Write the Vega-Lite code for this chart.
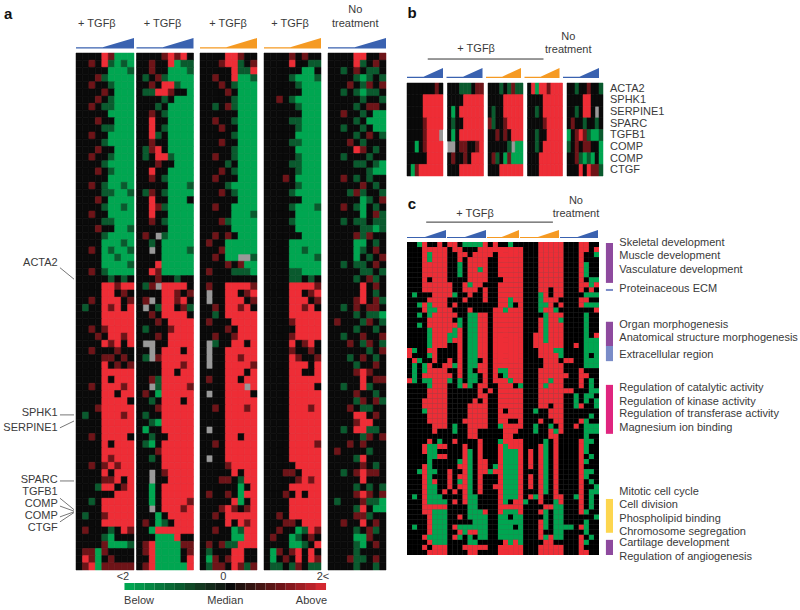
{"$schema":"https://vega.github.io/schema/vega-lite/v6.json","padding":0,"background":"white","config":{"font":"Liberation Sans","view":{"stroke":null},"text":{"color":"#3a3a3a","fontSize":11}},
"datasets":{"w":[{"d":0,"h":0.13},{"d":0.46,"h":0.13},{"d":1,"h":1}],
"a1":[{"v":[0,0,0,0,2,1,-2,-2,-2]},{"v":[0,0,1,0,2,-1,-2,-1,-2]},{"v":[0,0,0,0,0,-2,-2,-2,-1]},{"v":[0,0,0,1,-1,-2,-2,-2,-2]},{"v":[0,0,1,0,0,-1,-2,-2,-2]},{"v":[0,0,0,0,1,0,-2,-2,-2]},{"v":[0,0,0,1,0,-1,-2,-2,-2]},{"v":[0,0,1,0,-1,-1,-2,-2,-2]},{"v":[0,0,0,0,0,-2,-2,-2,-2]},{"v":[0,0,0,1,0,0,-2,-2,-2]},{"v":[0,0,0,0,-1,-1,-2,-2,-2]},{"v":[0,0,1,0,0,-2,-2,-2,-2]},{"v":[0,0,0,0,-1,-2,-2,-2,-2]},{"v":[0,0,0,1,0,0,-2,-2,-2]},{"v":[0,0,1,0,0,-1,-2,-2,-2]},{"v":[0,0,0,0,-1,-2,-2,-2,-2]},{"v":[0,0,0,1,0,-1,-2,-2,-2]},{"v":[0,0,0,0,0,-2,-2,-2,-2]},{"v":[0,0,1,0,-1,-2,-2,-1,-2]},{"v":[0,0,0,0,-1,-1,-2,-2,-1]},{"v":[0,0,0,1,0,-2,-2,-2,-2]},{"v":[0,0,0,0,-1,-2,-2,-1,-2]},{"v":[0,0,1,0,0,-2,-2,-2,-2]},{"v":[0,0,0,0,-1,-1,-2,-2,-2]},{"v":[0,0,0,1,0,0,-2,-2,-1]},{"v":[0,0,0,0,-1,-2,-2,-2,-2]},{"v":[0,0,0,0,-2,-2,-2,-1,-2]},{"v":[0,0,1,0,-2,-1,-2,-2,-1]},{"v":[0,0,0,0,-2,-2,-1,-2,-2]},{"v":[0,0,0,0,-2,-2,-2,-2,-1]},{"v":[0,0,1,0,-1,-2,-2,-2,-2]},{"v":[0,0,0,0,0,-1,0,-1,0]},{"v":[0,0,0,0,2,2,1,2,2]},{"v":[0,0,0,0,2,2,0,1,0]},{"v":[0,0,1,0,2,2,2,0,1]},{"v":[0,-1,0,0,2,1,2,0,2]},{"v":[0,0,0,0,2,2,2,2,2]},{"v":[0,0,0,0,2,2,2,2,2]},{"v":[0,0,1,0,1,2,2,2,2]},{"v":[0,0,0,1,0,2,2,1,2]},{"v":[0,0,0,0,2,1,2,0,2]},{"v":[0,0,1,0,0,0,1,0,0]},{"v":[0,0,0,0,1,1,0,1,0]},{"v":[0,0,0,0,2,0,1,0,1]},{"v":[0,0,0,0,2,2,2,2,2]},{"v":[0,0,0,0,2,0,2,2,2]},{"v":[0,0,1,0,2,2,2,1,2]},{"v":[0,0,0,0,2,2,0,2,2]},{"v":[0,0,0,0,2,2,2,2,0]},{"v":[0,0,0,1,2,2,2,2,2]},{"v":[0,-1,0,0,2,2,2,1,2]},{"v":[0,0,0,0,2,2,2,2,2]},{"v":[0,0,0,0,2,2,2,2,2]},{"v":[0,0,1,0,2,2,2,2,0]},{"v":[0,0,0,0,2,0,2,2,2]},{"v":[0,0,0,0,2,2,2,2,2]},{"v":[0,0,0,0,2,1,2,2,2]},{"v":[0,0,1,0,1,2,1,2,2]},{"v":[0,0,0,0,2,0,2,2,2]},{"v":[0,0,0,0,1,1,2,0,2]},{"v":[0,0,0,-1,2,2,0,1,2]},{"v":[0,0,0,0,0,0,2,2,2]},{"v":[0,0,-1,0,2,2,2,2,2]},{"v":[0,0,0,0,2,2,2,2,2]},{"v":[0,-1,0,0,1,2,2,2,2]},{"v":[0,0,0,0,2,2,2,2,2]},{"v":[0,1,0,0,0,-1,0,2,1]},{"v":[0,0,0,0,-1,-2,0,0,0]},{"v":[0,0,0,0,1,-2,-2,-2,-1]},{"v":[0,1,1,-2,1,0,0,0,0]},{"v":[0,2,1,-2,0,1,0,0,0]},{"v":[0,1,2,-2,1,1,1,1,1]}],
"a2":[{"v":[0,0,0,0,1,2,1,2,0]},{"v":[0,0,1,0,0,2,-2,-1,-1]},{"v":[0,0,1,0,0,-2,-2,-2,-1]},{"v":[0,-1,0,1,-1,-2,-2,-2,-2]},{"v":[0,0,1,0,2,2,-1,-2,-2]},{"v":[0,-1,-1,2,2,1,0,0,-2]},{"v":[0,0,0,0,-1,0,-2,-2,-2]},{"v":[0,0,0,-1,0,-2,-2,-2,-2]},{"v":[0,0,1,0,-1,-2,-2,-2,-2]},{"v":[0,0,2,0,0,-2,-2,-2,-2]},{"v":[0,0,2,0,-1,-2,-2,-2,-2]},{"v":[0,0,2,-1,0,-2,-2,-2,-2]},{"v":[0,0,1,0,0,-2,-2,-2,-2]},{"v":[0,-1,1,2,0,-2,-2,-2,-2]},{"v":[0,-1,0,2,2,-1,-2,-2,-2]},{"v":[0,0,0,1,0,0,-2,-2,-2]},{"v":[0,0,2,0,0,-2,-2,-2,-2]},{"v":[0,0,1,0,-1,-2,-2,-2,-2]},{"v":[0,0,0,0,0,-2,-2,-2,-1]},{"v":[0,-1,1,0,-1,-2,-2,-2,-2]},{"v":[0,0,2,0,0,-2,-2,-2,0]},{"v":[0,0,2,1,-1,-2,-2,-2,-2]},{"v":[0,0,2,0,0,-2,-2,-2,-2]},{"v":[0,0,1,0,-1,-2,-2,-2,-2]},{"v":[0,0,0,0,0,-2,-2,-2,-2]},{"v":[0,1,0,null,-1,-2,-2,-2,-2]},{"v":[0,0,-1,0,-2,-2,-2,-2,-2]},{"v":[0,0,null,0,-2,-2,-2,-2,-1]},{"v":[0,0,0,0,-2,-2,-2,-2,-2]},{"v":[0,0,0,2,-2,-2,-2,-2,-2]},{"v":[0,0,2,1,-2,-2,-2,-2,-2]},{"v":[0,0,0,1,0,0,-1,0,0]},{"v":[0,-1,1,null,2,2,2,2,0]},{"v":[0,0,0,0,2,2,1,0,1]},{"v":[0,1,null,0,2,2,1,2,0]},{"v":[0,null,0,-1,2,2,0,1,-1]},{"v":[0,0,1,0,2,2,2,2,0]},{"v":[0,0,0,1,0,2,2,2,2]},{"v":[0,-1,0,0,0,1,2,2,2]},{"v":[0,0,0,1,0,2,2,2,2]},{"v":[0,null,null,0,0,2,2,2,2]},{"v":[0,0,null,0,2,2,2,0,2]},{"v":[0,-1,null,1,2,2,2,2,2]},{"v":[0,0,0,0,2,2,2,1,2]},{"v":[0,0,0,0,2,2,0,2,2]},{"v":[0,0,1,-1,2,2,2,2,2]},{"v":[0,0,null,-1,2,2,2,2,1]},{"v":[0,1,0,-2,2,2,2,2,2]},{"v":[0,0,-1,0,2,2,2,0,2]},{"v":[0,0,0,1,2,2,2,2,2]},{"v":[0,-1,0,0,2,2,2,2,2]},{"v":[0,0,-1,-2,2,2,2,2,2]},{"v":[0,-2,0,0,2,2,2,2,2]},{"v":[0,0,-1,0,0,2,2,2,2]},{"v":[0,-1,-2,0,2,2,2,2,2]},{"v":[0,0,0,1,2,2,2,2,2]},{"v":[0,0,-1,0,2,2,2,2,2]},{"v":[0,0,0,0,2,2,2,2,2]},{"v":[0,0,null,0,1,2,2,2,2]},{"v":[0,0,null,0,0,2,2,2,2]},{"v":[0,0,-2,0,2,2,2,2,2]},{"v":[0,0,-2,0,2,2,2,2,2]},{"v":[0,0,-2,0,2,2,2,2,1]},{"v":[0,0,null,0,2,2,2,1,2]},{"v":[0,0,0,-2,0,2,2,2,2]},{"v":[0,1,0,-2,-1,0,2,2,2]},{"v":[0,0,-2,2,2,2,2,2,2]},{"v":[0,0,0,-2,-2,-2,2,0,0]},{"v":[0,1,2,-2,-2,-2,-2,1,1]},{"v":[0,1,2,-2,-2,-2,-2,0,1]},{"v":[0,0,2,-2,-2,-2,-2,0,2]},{"v":[0,1,2,-2,-2,-2,-2,-2,2]}],
"a3":[{"v":[0,0,0,0,2,2,1,0,0]},{"v":[0,0,0,1,2,2,-1,0,1]},{"v":[0,0,0,0,0,2,-1,-1,2]},{"v":[0,0,1,0,0,2,-2,-2,-1]},{"v":[0,0,0,1,0,-1,-2,-2,-2]},{"v":[0,0,0,0,1,0,-2,-2,-2]},{"v":[0,0,0,0,0,-1,-2,-2,-2]},{"v":[0,0,-1,0,1,-1,-2,-2,-2]},{"v":[0,0,0,0,0,0,-2,-2,-2]},{"v":[0,0,1,0,0,-1,-2,-2,-2]},{"v":[0,0,0,1,0,0,-2,-2,-2]},{"v":[0,0,0,0,0,-1,-2,-2,-2]},{"v":[0,0,0,1,0,0,-2,-2,-2]},{"v":[0,0,0,0,0,-1,-2,-2,-2]},{"v":[0,0,1,0,0,-1,-2,-2,-2]},{"v":[0,0,0,0,-1,0,-2,-2,-2]},{"v":[0,0,0,1,0,-1,-2,-2,-2]},{"v":[0,0,1,0,0,0,-2,-2,-2]},{"v":[0,0,0,0,-1,-2,-2,-2,-2]},{"v":[0,0,0,1,0,-1,-2,-2,-2]},{"v":[0,0,0,0,0,0,-2,-2,-2]},{"v":[0,0,1,0,0,-2,-2,-2,-2]},{"v":[0,0,0,0,0,-2,-2,-2,-1]},{"v":[0,0,0,1,-1,-2,-2,-2,-2]},{"v":[0,0,0,0,0,-2,-2,-2,-2]},{"v":[0,0,1,0,1,0,-2,-2,-2]},{"v":[0,1,0,0,-2,-2,-2,-2,-2]},{"v":[0,0,0,1,-2,-2,-2,-2,-2]},{"v":[0,0,1,0,-2,-2,null,null,-1]},{"v":[0,0,0,0,1,0,1,-2,-2]},{"v":[0,1,0,0,0,-1,-1,-1,-2]},{"v":[0,0,0,0,0,0,0,0,0]},{"v":[0,1,0,0,2,2,2,2,1]},{"v":[0,null,0,0,2,2,0,1,2]},{"v":[0,null,0,0,2,2,2,0,1]},{"v":[0,0,1,0,2,2,1,2,0]},{"v":[0,0,-1,0,2,2,2,2,2]},{"v":[0,1,0,0,0,2,2,2,2]},{"v":[0,0,0,0,1,0,2,2,2]},{"v":[0,0,1,0,0,1,2,2,2]},{"v":[0,null,-1,0,0,2,2,0,2]},{"v":[0,null,0,0,2,2,2,2,2]},{"v":[0,null,0,0,2,2,1,2,2]},{"v":[0,null,0,0,2,2,2,2,1]},{"v":[0,0,0,0,2,2,2,0,2]},{"v":[0,1,0,0,2,2,0,2,2]},{"v":[0,0,0,0,2,2,2,null,2]},{"v":[0,null,0,0,2,2,2,2,0]},{"v":[0,0,0,0,2,2,2,2,2]},{"v":[0,0,1,0,2,2,2,1,2]},{"v":[0,0,0,0,2,2,2,2,2]},{"v":[0,0,0,0,2,2,2,2,2]},{"v":[0,null,0,0,2,2,2,2,2]},{"v":[0,0,0,0,2,2,0,2,2]},{"v":[0,0,1,0,2,2,2,2,2]},{"v":[0,0,0,0,2,2,2,2,2]},{"v":[0,null,0,0,2,2,2,2,2]},{"v":[0,0,0,0,1,2,2,2,2]},{"v":[0,0,0,0,0,2,0,2,2]},{"v":[0,0,0,1,1,0,-1,2,2]},{"v":[0,0,0,0,0,0,-2,0,2]},{"v":[0,1,0,0,1,0,-2,2,2]},{"v":[0,0,0,0,0,2,-2,0,2]},{"v":[0,0,0,1,2,1,0,1,2]},{"v":[0,0,1,0,2,2,2,2,2]},{"v":[0,0,0,0,2,0,2,1,2]},{"v":[0,0,1,0,0,-2,-1,2,2]},{"v":[0,0,0,0,0,-2,-2,2,2]},{"v":[0,1,0,1,-1,-1,2,2,2]},{"v":[0,-1,0,0,0,2,2,0,0]},{"v":[0,-2,1,0,1,2,2,0,0]},{"v":[0,-1,1,1,0,2,1,-1,1]}],
"a4":[{"v":[0,0,0,0,1,0,1,0,0]},{"v":[0,0,0,0,2,0,0,-1,-1]},{"v":[0,0,0,0,0,0,-2,-2,0]},{"v":[0,0,0,0,-1,-2,-2,-2,-1]},{"v":[0,0,0,0,0,-1,-2,-2,-2]},{"v":[0,0,0,0,0,0,-2,-2,-2]},{"v":[0,0,1,0,-1,-2,-2,-2,-2]},{"v":[0,0,0,0,0,-1,-2,-2,-2]},{"v":[0,0,0,0,0,0,-2,-2,-2]},{"v":[0,0,0,0,-1,-1,-2,-2,-2]},{"v":[0,0,0,0,0,-1,-2,-2,-2]},{"v":[0,0,0,0,0,-2,-2,-2,-2]},{"v":[0,0,0,0,-1,-1,-2,-2,-2]},{"v":[0,0,0,0,0,-2,-2,-2,-2]},{"v":[0,0,0,0,0,-1,-2,-2,-2]},{"v":[0,0,0,0,-1,-1,-2,-2,-2]},{"v":[0,0,0,0,0,-1,-2,-2,-2]},{"v":[0,0,0,1,0,-2,-2,-2,-2]},{"v":[0,0,0,0,0,-1,-2,-2,-2]},{"v":[0,0,0,0,-1,-2,-2,-2,-2]},{"v":[0,0,0,0,0,0,-2,-2,-2]},{"v":[0,0,0,0,-1,-2,-2,-2,-1]},{"v":[0,0,0,0,0,-2,-2,-2,-2]},{"v":[0,0,0,0,-1,-2,-2,-2,-2]},{"v":[0,0,0,0,0,-2,-2,-2,-2]},{"v":[0,0,0,0,0,0,-2,-2,-2]},{"v":[0,0,0,0,-2,-2,-2,-2,-2]},{"v":[0,0,0,0,-2,-2,-1,-2,-2]},{"v":[0,0,0,0,-2,-2,-2,-2,-1]},{"v":[0,0,0,0,-2,-2,-2,-2,-2]},{"v":[0,0,0,0,-1,-1,-2,-2,-2]},{"v":[0,0,0,0,-1,-1,0,-1,0]},{"v":[0,0,0,0,2,2,2,2,1]},{"v":[0,0,0,0,2,2,0,1,2]},{"v":[0,0,0,0,2,2,2,0,1]},{"v":[0,0,0,0,2,2,1,2,0]},{"v":[0,0,0,0,2,2,2,2,2]},{"v":[0,0,0,0,1,2,2,2,2]},{"v":[0,0,0,0,0,2,2,2,2]},{"v":[0,0,0,0,1,2,2,2,2]},{"v":[0,0,0,0,2,0,1,2,0]},{"v":[0,0,0,0,1,0,0,1,0]},{"v":[0,0,0,0,2,1,0,0,1]},{"v":[0,0,0,0,2,2,2,0,2]},{"v":[0,0,0,0,2,2,0,0,2]},{"v":[0,0,0,0,2,2,2,2,2]},{"v":[0,0,0,0,2,2,2,2,0]},{"v":[0,0,0,0,2,2,2,2,2]},{"v":[0,0,0,0,2,2,2,2,2]},{"v":[0,0,0,0,2,2,2,1,2]},{"v":[0,0,0,0,2,2,2,2,2]},{"v":[0,0,0,0,2,2,2,2,2]},{"v":[0,0,0,0,2,2,2,2,2]},{"v":[0,0,0,0,2,2,2,2,2]},{"v":[0,0,0,0,2,2,2,2,1]},{"v":[0,0,0,0,2,2,2,2,2]},{"v":[0,0,0,0,2,2,2,2,2]},{"v":[0,0,0,0,0,2,2,2,2]},{"v":[0,0,0,1,1,0,2,2,2]},{"v":[0,0,0,0,0,1,2,1,2]},{"v":[0,0,0,0,2,2,2,2,2]},{"v":[0,0,0,1,0,2,0,2,2]},{"v":[0,0,0,0,2,2,2,2,2]},{"v":[0,0,0,0,2,2,2,2,2]},{"v":[0,0,1,0,2,2,2,2,2]},{"v":[0,0,0,1,1,0,2,2,2]},{"v":[0,0,1,0,0,-2,-1,2,1]},{"v":[0,1,0,0,-2,-1,0,1,0]},{"v":[0,0,0,0,-2,-2,-1,0,2]},{"v":[0,-2,1,0,1,2,0,2,0]},{"v":[0,-2,0,1,0,2,0,2,1]},{"v":[0,-1,-1,0,-1,1,0,-1,-1]}],
"a5":[{"v":[0,0,0,0,2,2,0,0,1]},{"v":[0,0,0,0,2,-1,0,1,0]},{"v":[0,0,-1,0,1,0,-1,-1,0]},{"v":[0,0,0,0,-1,-2,-1,0,-1]},{"v":[0,0,0,1,0,-1,1,0,1]},{"v":[0,0,-1,0,-1,-2,-1,-1,0]},{"v":[0,0,0,0,0,-1,0,0,-1]},{"v":[0,0,0,0,-1,0,1,1,0]},{"v":[0,0,1,0,0,-1,0,-2,-2]},{"v":[0,0,0,0,-1,0,-2,-2,-2]},{"v":[0,0,-1,0,0,-1,0,-2,-2]},{"v":[0,0,0,0,-1,0,1,0,-1]},{"v":[0,0,0,1,0,-1,0,0,0]},{"v":[0,0,0,0,2,1,0,-1,0]},{"v":[0,0,-1,0,0,0,-1,0,0]},{"v":[0,0,0,0,-1,-1,0,-1,-2]},{"v":[0,0,0,0,0,0,-1,-2,-2]},{"v":[0,0,1,0,-1,0,-1,0,0]},{"v":[0,0,0,0,0,1,0,-1,0]},{"v":[0,0,0,-1,1,-1,0,0,-1]},{"v":[0,0,0,0,0,-2,-1,0,1]},{"v":[0,0,1,0,-1,-2,0,-1,0]},{"v":[0,0,0,0,0,-2,0,1,-1]},{"v":[0,0,-1,0,-1,-1,0,-1,-1]},{"v":[0,0,0,0,0,-1,-1,-2,-1]},{"v":[0,0,0,0,1,-1,1,0,0]},{"v":[0,0,0,0,-2,-2,0,-1,0]},{"v":[0,0,0,0,-2,-1,0,1,0]},{"v":[0,0,0,0,-2,0,-1,0,1]},{"v":[0,0,-1,0,-1,-1,0,1,0]},{"v":[0,0,0,0,0,-1,-1,0,-1]},{"v":[0,0,0,0,-1,0,1,-1,0]},{"v":[0,0,0,0,0,2,0,1,0]},{"v":[0,0,0,0,0,2,0,-1,0]},{"v":[0,0,0,0,1,2,0,1,-1]},{"v":[0,0,-1,0,1,0,1,1,0]},{"v":[0,0,0,0,-1,0,-1,-1,-2]},{"v":[0,1,0,0,0,-1,1,0,-1]},{"v":[0,0,0,0,-1,0,0,-1,0]},{"v":[0,0,-1,0,0,1,0,0,1]},{"v":[0,0,0,1,0,-1,1,0,-1]},{"v":[0,0,0,0,0,0,-1,0,1]},{"v":[0,0,0,-1,0,1,0,-1,0]},{"v":[0,0,0,0,-1,0,0,1,0]},{"v":[0,0,0,0,1,2,1,0,0]},{"v":[0,0,0,0,0,2,0,1,1]},{"v":[0,0,-1,0,0,2,-1,0,0]},{"v":[0,0,0,0,1,0,0,-1,0]},{"v":[0,0,0,0,-1,1,0,1,-1]},{"v":[0,0,0,1,0,-1,-1,0,0]},{"v":[0,0,0,0,2,2,0,1,0]},{"v":[0,0,0,0,1,2,2,0,0]},{"v":[0,0,-1,0,2,2,-1,-1,0]},{"v":[0,0,0,0,0,-1,1,0,1]},{"v":[0,0,0,1,0,1,0,0,0]},{"v":[0,1,0,0,0,0,-1,0,0]},{"v":[0,0,0,0,-1,2,0,0,0]},{"v":[0,0,0,0,0,1,0,-1,0]},{"v":[0,0,-1,0,1,2,1,1,0]},{"v":[0,0,0,0,0,2,0,0,0]},{"v":[0,0,0,0,-1,0,-1,0,-1]},{"v":[0,0,0,0,1,2,1,0,1]},{"v":[0,-1,0,0,0,1,-1,-1,-2]},{"v":[0,0,0,0,-1,2,0,-2,-2]},{"v":[0,0,0,0,1,1,-1,0,0]},{"v":[0,0,1,0,0,2,0,1,0]},{"v":[0,0,0,0,-1,0,1,-1,0]},{"v":[0,0,0,0,-2,-2,1,0,0]},{"v":[0,0,0,0,-1,-2,0,1,0]},{"v":[0,0,0,0,-1,0,0,0,0]},{"v":[0,0,0,1,-1,-1,0,1,0]},{"v":[0,0,0,0,-1,0,0,-1,0]}],
"b1":[{"v":[0,0,0,0,0,0,0,1,0]},{"v":[0,0,0,0,2,2,2,2,2]},{"v":[0,0,0,0,2,2,2,2,2]},{"v":[0,0,0,0,1,2,2,2,2]},{"v":[0,0,0,0,1,2,2,2,null]},{"v":[0,0,-2,0,1,2,2,2,2]},{"v":[0,0,0,0,0,2,2,2,2]},{"v":[0,-2,1,2,2,2,2,2,2]}],
"b2":[{"v":[0,0,0,-1,-1,-1,0,1,1]},{"v":[0,0,0,0,2,2,2,2,2]},{"v":[0,-2,0,2,2,2,2,2,2]},{"v":[0,-1,0,0,2,2,2,2,2]},{"v":[0,-2,0,2,2,2,2,2,2]},{"v":[null,null,0,1,1,0,0,1,2]},{"v":[0,1,0,0,1,0,2,2,2]},{"v":[0,0,0,2,2,2,2,2,2]}],
"b3":[{"v":[0,0,0,-1,0,-1,1,-1,-1]},{"v":[0,0,0,0,2,2,2,2,2]},{"v":[0,-1,0,0,2,2,2,2,2]},{"v":[1,-1,0,0,1,2,2,2,2]},{"v":[0,0,1,0,1,0,2,2,2]},{"v":[0,0,0,0,0,-1,null,-2,-2]},{"v":[0,1,-1,0,-2,1,-2,-2,-2]},{"v":[0,0,0,2,2,2,2,2,2]}],
"b4":[{"v":[0,2,-2,2,2,1,2,2,2]},{"v":[0,0,0,0,2,2,2,2,2]},{"v":[0,0,-1,0,2,2,2,2,2]},{"v":[0,0,0,0,1,2,2,2,2]},{"v":[0,0,-1,0,0,2,2,2,2]},{"v":[0,0,-1,0,2,2,2,2,2]},{"v":[0,0,0,2,2,2,2,2,2]},{"v":[0,0,0,2,2,2,2,2,2]}],
"b5":[{"v":[0,0,-1,0,0,1,0,0,-1]},{"v":[0,0,0,0,2,2,0,0,0]},{"v":[0,0,-1,0,2,2,0,null,0]},{"v":[0,1,0,0,-1,0,0,-1,0]},{"v":[-2,0,1,2,1,-1,-2,-2,-1]},{"v":[-1,0,1,0,1,1,0,0,-2]},{"v":[0,0,1,-1,-2,-1,-2,0,-2]},{"v":[0,0,0,2,0,2,1,1,-1]}],
"c":[{"v":[0,0,2,1,0,0,1,0,1,1,0,2,2,2,2,1,0,1,0,0,2,0,0,0,0,0,1,1,1,1,1,0,0,0,1,1,0,0]},{"v":[0,0,0,1,1,1,1,1,0,1,1,0,0,0,1,1,1,1,1,1,1,1,1,0,0,0,1,1,1,1,1,0,0,0,1,1,0,1]},{"v":[0,0,0,1,2,1,1,1,0,0,1,1,0,1,1,1,1,0,1,1,1,1,1,0,0,0,1,1,1,1,1,0,0,0,1,0,0,2]},{"v":[0,0,0,1,2,1,1,1,0,0,1,0,1,1,1,1,0,0,1,1,1,1,1,0,0,0,1,1,1,1,1,0,0,0,1,0,0,0]},{"v":[0,0,0,1,1,1,1,1,0,0,2,0,1,1,1,1,0,0,1,1,1,1,1,0,0,0,1,1,1,1,1,0,0,0,1,2,0,0]},{"v":[0,0,0,1,1,1,1,1,0,0,2,0,1,1,2,1,0,0,1,1,1,1,1,0,0,0,1,1,1,1,1,0,0,0,1,2,0,0]},{"v":[0,0,0,1,1,1,1,1,0,0,2,0,1,1,1,1,0,0,1,1,1,1,1,0,0,0,1,1,1,1,1,0,0,0,1,2,0,0]},{"v":[0,0,0,1,0,1,1,1,0,0,0,0,1,1,1,1,0,0,0,1,1,1,1,0,0,0,1,1,1,1,1,0,0,0,1,0,2,2]},{"v":[0,0,0,1,1,1,1,1,1,0,0,1,2,1,1,0,0,0,1,1,1,1,1,0,0,0,1,1,1,1,1,0,0,0,1,1,2,1]},{"v":[0,0,0,1,1,1,1,1,1,0,0,1,1,1,0,1,0,0,1,1,1,1,1,0,0,0,1,1,0,1,1,0,0,0,1,0,1,0]},{"v":[0,2,0,0,0,1,1,1,1,2,0,0,1,0,0,1,0,0,1,1,1,1,1,0,0,0,2,1,0,1,1,0,0,0,0,2,2,2]},{"v":[0,0,0,0,1,1,1,1,0,0,0,1,0,0,0,1,0,0,1,1,2,1,1,0,0,0,2,1,1,1,0,0,0,0,1,1,0,0]},{"v":[0,0,2,1,2,1,1,1,0,1,0,0,0,0,0,0,0,0,1,1,2,0,1,0,0,0,2,2,1,0,1,0,0,0,1,2,2,2]},{"v":[0,0,0,1,2,2,1,1,1,0,0,0,1,0,0,0,0,1,1,2,1,1,1,0,0,0,2,1,1,2,0,0,0,0,0,0,0,1]},{"v":[0,0,2,0,2,1,1,1,1,1,0,0,2,2,1,1,0,1,1,1,1,1,1,0,0,0,0,2,1,1,1,0,0,0,0,2,0,0]},{"v":[0,0,0,0,1,1,1,1,1,0,2,0,2,2,1,1,0,1,1,1,1,1,1,0,0,0,1,2,1,1,2,0,0,0,0,2,0,0]},{"v":[0,0,2,0,1,1,1,1,1,1,2,0,2,2,1,1,0,1,1,1,1,1,1,0,0,0,1,2,1,1,1,0,0,0,0,2,0,0]},{"v":[0,0,0,0,2,1,1,1,1,2,1,0,2,2,1,1,0,1,1,1,1,1,1,0,0,0,1,2,1,1,1,0,0,0,0,2,0,0]},{"v":[0,0,0,0,2,1,1,1,2,2,1,0,2,2,1,1,0,1,1,1,1,1,1,0,0,1,1,2,1,1,1,0,0,0,0,2,0,1]},{"v":[0,0,0,0,2,1,1,1,2,1,1,0,2,2,1,1,0,1,1,1,1,1,1,0,0,1,1,2,1,1,1,0,0,0,0,2,2,2]},{"v":[0,0,0,0,2,1,1,1,0,0,1,0,2,2,1,1,0,1,1,1,1,1,1,0,0,1,1,1,1,1,1,0,0,1,0,2,2,2]},{"v":[1,2,0,0,1,1,0,0,0,0,1,0,2,2,1,1,0,1,1,1,1,1,1,0,0,0,1,1,1,2,2,0,0,0,0,2,2,2]},{"v":[1,0,0,0,2,1,0,0,0,0,1,0,2,2,1,1,0,1,1,1,1,1,1,0,0,0,1,1,1,1,2,0,0,0,0,2,0,2]},{"v":[0,1,2,0,0,1,0,0,1,0,1,0,2,2,0,1,0,1,1,1,1,1,1,0,0,0,0,1,1,1,0,1,1,0,0,2,2,2]},{"v":[0,2,0,2,1,0,0,1,1,2,1,0,2,2,1,1,0,1,1,1,1,1,1,0,0,0,0,1,1,1,1,0,0,0,0,2,2,2]},{"v":[0,2,0,2,1,1,1,1,0,0,1,0,2,0,1,1,0,1,2,2,1,1,1,0,0,0,1,1,1,1,1,0,0,0,1,0,0,0]},{"v":[0,2,0,1,1,1,1,1,1,0,1,0,2,2,0,1,0,1,0,2,1,1,1,0,0,0,1,1,1,1,1,1,0,0,1,1,0,0]},{"v":[1,2,0,2,2,1,1,1,2,0,2,0,2,2,0,1,0,1,1,1,2,1,1,0,0,0,1,1,2,1,1,0,0,0,1,0,2,0]},{"v":[0,0,0,0,2,1,1,1,0,0,2,1,2,0,1,1,0,0,1,1,1,0,2,0,0,0,1,2,1,1,1,0,0,0,1,0,2,0]},{"v":[0,0,0,0,1,1,1,1,0,0,0,0,0,0,1,0,1,0,1,1,1,1,1,0,0,0,1,1,1,1,1,1,1,0,0,0,2,2]},{"v":[0,0,0,0,1,1,1,1,0,0,0,0,0,0,1,1,0,0,1,1,1,1,1,0,0,0,1,1,1,1,1,0,0,2,0,2,2,0]},{"v":[0,0,0,1,1,1,1,1,0,0,0,0,0,1,0,1,0,0,1,1,1,1,1,0,0,0,1,1,1,1,1,0,0,2,0,2,0,2]},{"v":[0,0,0,1,1,1,1,1,0,0,0,0,1,1,1,1,0,0,1,1,1,1,1,0,0,0,1,1,0,1,1,0,0,2,1,0,0,2]},{"v":[0,0,0,2,1,1,1,1,0,0,0,0,1,1,1,1,0,0,1,0,1,1,1,0,0,2,0,0,1,1,1,0,0,0,0,0,0,0]},{"v":[0,0,0,0,1,1,1,1,0,0,0,0,1,1,1,1,0,0,1,1,1,1,1,0,0,0,0,0,1,1,1,0,0,0,0,0,2,0]},{"v":[0,0,0,0,1,1,1,1,0,0,0,1,1,1,1,1,0,0,1,1,0,0,1,0,0,0,1,0,0,1,1,0,0,0,1,2,0,0]},{"v":[0,0,0,0,0,1,1,1,0,2,0,0,1,1,1,1,0,0,2,1,1,1,1,0,0,2,0,0,2,0,1,0,0,1,0,2,2,2]},{"v":[0,0,0,0,0,1,0,0,0,2,0,0,1,1,0,0,0,0,0,1,1,1,0,0,0,2,0,0,1,2,1,0,0,0,0,2,2,2]},{"v":[0,0,0,0,0,0,0,0,0,0,0,0,1,1,0,0,0,0,0,1,1,0,0,0,0,0,0,0,1,1,0,0,0,0,0,2,0,0]},{"v":[0,0,0,0,1,0,2,0,0,1,0,0,0,0,1,0,0,0,2,1,1,1,1,0,0,0,0,2,0,1,0,0,0,0,1,2,2,0]},{"v":[0,0,0,1,2,2,1,1,0,0,0,1,0,0,1,0,0,0,1,2,1,1,1,0,0,0,1,2,0,1,0,0,0,0,1,2,0,0]},{"v":[0,0,0,1,2,2,0,0,0,0,0,1,2,0,1,0,0,0,1,2,2,2,1,0,1,0,1,2,0,1,0,0,0,0,1,2,0,0]},{"v":[0,0,0,0,2,2,1,1,0,0,0,1,2,0,1,0,0,0,1,2,2,2,1,0,1,0,1,2,0,1,0,0,0,0,1,0,2,0]},{"v":[0,0,0,0,2,0,0,0,0,0,2,1,2,0,1,1,0,0,1,2,2,2,1,0,1,0,1,2,0,1,0,0,0,0,1,2,0,0]},{"v":[0,0,0,1,2,0,0,0,0,0,1,1,2,0,1,1,0,2,1,2,2,2,1,0,1,0,1,2,0,1,0,0,0,0,1,0,0,0]},{"v":[0,0,2,1,2,2,0,0,1,0,0,1,2,0,1,1,2,1,1,2,2,2,1,0,0,0,1,2,0,1,0,0,0,0,1,2,2,0]},{"v":[0,0,0,1,2,0,0,0,1,0,1,1,2,0,1,0,0,0,1,2,2,2,1,0,1,0,1,2,0,1,0,0,0,0,1,2,0,0]},{"v":[0,0,0,1,2,1,0,0,1,0,2,1,2,0,1,0,0,0,1,2,2,2,1,0,1,0,1,2,0,1,0,0,0,0,1,0,2,0]},{"v":[0,0,0,1,2,2,0,0,1,0,1,1,2,0,1,0,0,1,1,2,2,2,1,0,1,0,1,2,0,1,0,0,0,0,1,0,0,2]},{"v":[0,0,0,1,2,2,0,1,0,1,0,1,2,0,1,0,0,0,1,2,2,2,1,0,0,0,1,2,0,1,0,0,0,0,1,0,2,2]},{"v":[0,2,0,1,2,2,2,0,0,0,0,1,2,2,0,0,0,0,1,2,2,2,1,0,1,2,1,0,0,1,1,0,0,2,1,0,2,0]},{"v":[0,0,0,1,2,2,2,2,0,1,0,1,2,2,0,0,0,0,1,2,0,1,1,2,0,0,1,0,0,2,1,0,0,0,1,0,2,0]},{"v":[0,0,0,1,1,1,1,1,0,0,0,0,2,2,0,0,0,0,1,1,1,1,1,0,0,0,0,1,1,2,2,0,0,0,1,0,2,0]},{"v":[0,0,0,1,1,2,2,2,0,0,0,0,2,2,2,1,0,0,1,2,2,2,1,0,0,0,1,2,0,2,2,0,0,0,1,2,0,0]},{"v":[0,0,0,0,1,2,2,2,0,0,1,0,2,2,2,2,0,0,2,2,0,2,2,0,0,0,0,2,0,2,2,0,0,0,0,0,0,2]},{"v":[0,0,0,0,1,2,2,2,0,0,0,0,0,2,2,2,0,0,2,2,2,2,2,0,0,0,1,2,0,2,2,0,0,0,0,2,0,0]},{"v":[0,2,0,0,1,2,2,2,0,1,2,2,2,2,2,2,0,0,2,2,2,0,2,0,0,0,1,2,0,2,2,2,2,0,1,2,0,0]},{"v":[0,0,0,0,1,2,2,2,0,0,1,2,1,1,2,2,0,0,2,2,2,2,2,0,0,0,1,0,0,2,2,0,0,0,0,2,0,0]},{"v":[0,0,0,1,2,2,2,2,0,1,2,0,2,0,2,2,0,0,2,2,2,2,2,0,0,0,1,2,1,2,2,0,0,0,1,0,2,0]},{"v":[0,0,0,0,1,2,2,2,0,0,0,0,2,2,0,0,0,0,0,1,2,1,2,0,0,0,0,1,1,0,0,0,0,0,1,2,0,0]},{"v":[0,0,0,1,0,1,1,1,0,0,0,1,1,1,1,1,0,0,1,1,1,1,1,0,0,0,1,1,1,1,1,0,0,0,1,0,0,0]},{"v":[0,0,0,0,1,1,1,1,0,0,0,0,1,1,0,0,0,0,1,1,1,1,1,0,0,0,1,1,1,1,1,0,0,0,1,1,0,0]}],
"genes":[{"g":"ACTA2","l":29.25,"s":29.9,"e":31.5},{"g":"SPHK1","l":50.1,"s":50.4,"e":50.4},{"g":"SERPINE1","l":52.2,"s":52.2,"e":51.25},{"g":"SPARC","l":59.5,"s":59.6,"e":59.6},{"g":"TGFB1","l":61.1,"s":62,"e":63.6},{"g":"COMP","l":62.8,"s":63.1,"e":63.8},{"g":"COMP","l":64.5,"s":64.6,"e":63.9},{"g":"CTGF","l":66.1,"s":65.3,"e":64}],
"ramp":[{"v":-2,"e":-1.8},{"v":-1.8,"e":-1.6},{"v":-1.6,"e":-1.4},{"v":-1.4,"e":-1.2},{"v":-1.2,"e":-1},{"v":-1,"e":-0.8},{"v":-0.8,"e":-0.6},{"v":-0.6,"e":-0.4},{"v":-0.4,"e":-0.2},{"v":-0.2,"e":0},{"v":0,"e":0.2},{"v":0.2,"e":0.4},{"v":0.4,"e":0.6},{"v":0.6,"e":0.8},{"v":0.8,"e":1},{"v":1,"e":1.2},{"v":1.2,"e":1.4},{"v":1.4,"e":1.6},{"v":1.6,"e":1.8},{"v":1.8,"e":2}]},
"spacing":19,"resolve":{"scale":{"color":"independent"}},"hconcat":[{"spacing":0,"vconcat":[{"spacing":0,"hconcat":[
{"spacing":3,"vconcat":[
{"width":74,"height":50,"data":{"values":[{"t":"a","x":0.11,"y":3.25}]},"mark":{"type":"text","fontSize":15,"fontWeight":"bold","color":"#111"},"encoding":{"x":{"field":"x","type":"quantitative","scale":{"domain":[0,1]},"axis":null},"y":{"field":"y","type":"quantitative","scale":{"domain":[-0.13,4.57],"nice":false},"axis":null},"text":{"field":"t"}}},
{"width":74,"height":517,"data":{"name":"genes"},"layer":[{"mark":{"type":"rule","color":"#777","strokeWidth":1},"encoding":{"x":{"datum":0.81,"type":"quantitative","scale":{"domain":[0,1]},"axis":null},"x2":{"datum":1},"y":{"field":"s","type":"quantitative","scale":{"domain":[72,0],"nice":false},"axis":null},"y2":{"field":"e"}}},{"mark":{"type":"text","align":"right"},"encoding":{"x":{"datum":0.78,"type":"quantitative"},"y":{"field":"l","type":"quantitative"},"text":{"field":"g"}}}]}]},
{"spacing":5,"hconcat":[{"spacing":0.5,"hconcat":[
{"spacing":2,"vconcat":[{"width":58,"height":50,"layer":[{"data":{"name":"w"},"mark":{"type":"area","color":"#3a62b0"},"encoding":{"x":{"field":"d","type":"quantitative","scale":{"domain":[0,1]},"axis":null},"y":{"field":"h","type":"quantitative","scale":{"domain":[-0.13,4.57],"nice":false},"axis":null},"y2":{"datum":0}}},{"data":{"values":[{"t":"+ TGFβ","d":0.36,"h":2.28}]},"mark":{"type":"text"},"encoding":{"x":{"field":"d","type":"quantitative"},"y":{"field":"h","type":"quantitative"},"text":{"field":"t"}}}]},
{"width":58,"height":517,"view":{"fill":"#999"},"data":{"name":"a1"},"transform":[{"window":[{"op":"row_number","as":"r"}]},{"flatten":["v"]},{"window":[{"op":"row_number","as":"c"}],"groupby":["r"]}],"mark":{"type":"rect","strokeWidth":0.5},"encoding":{"x":{"field":"c","type":"ordinal","axis":null,"scale":{"paddingInner":0,"paddingOuter":0}},"y":{"field":"r","type":"ordinal","axis":null,"scale":{"paddingInner":0,"paddingOuter":0}},"color":{"field":"v","type":"quantitative","legend":null,"scale":{"domain":[-2,-1,0,1,2],"range":["#00a651","#0a5a2e","#0a0a0a","#6e1418","#ee2d36"]}},"stroke":{"field":"v","type":"quantitative","legend":null,"scale":{"domain":[-2,-1,0,1,2],"range":["#00a651","#0a5a2e","#0a0a0a","#6e1418","#ee2d36"]}}}}]},
{"spacing":2,"vconcat":[{"width":57,"height":50,"layer":[{"data":{"name":"w"},"mark":{"type":"area","color":"#3a62b0"},"encoding":{"x":{"field":"d","type":"quantitative","scale":{"domain":[0,1]},"axis":null},"y":{"field":"h","type":"quantitative","scale":{"domain":[-0.13,4.57],"nice":false},"axis":null},"y2":{"datum":0}}},{"data":{"values":[{"t":"+ TGFβ","d":0.456,"h":2.28}]},"mark":{"type":"text"},"encoding":{"x":{"field":"d","type":"quantitative"},"y":{"field":"h","type":"quantitative"},"text":{"field":"t"}}}]},
{"width":57,"height":517,"view":{"fill":"#999"},"data":{"name":"a2"},"transform":[{"window":[{"op":"row_number","as":"r"}]},{"flatten":["v"]},{"window":[{"op":"row_number","as":"c"}],"groupby":["r"]}],"mark":{"type":"rect","strokeWidth":0.5},"encoding":{"x":{"field":"c","type":"ordinal","axis":null,"scale":{"paddingInner":0,"paddingOuter":0}},"y":{"field":"r","type":"ordinal","axis":null,"scale":{"paddingInner":0,"paddingOuter":0}},"color":{"field":"v","type":"quantitative","legend":null,"scale":{"domain":[-2,-1,0,1,2],"range":["#00a651","#0a5a2e","#0a0a0a","#6e1418","#ee2d36"]}},"stroke":{"field":"v","type":"quantitative","legend":null,"scale":{"domain":[-2,-1,0,1,2],"range":["#00a651","#0a5a2e","#0a0a0a","#6e1418","#ee2d36"]}}}}]}]},
{"spacing":5,"hconcat":[
{"spacing":2,"vconcat":[{"width":57,"height":50,"layer":[{"data":{"name":"w"},"mark":{"type":"area","color":"#f59a23"},"encoding":{"x":{"field":"d","type":"quantitative","scale":{"domain":[0,1]},"axis":null},"y":{"field":"h","type":"quantitative","scale":{"domain":[-0.13,4.57],"nice":false},"axis":null},"y2":{"datum":0}}},{"data":{"values":[{"t":"+ TGFβ","d":0.49,"h":2.28}]},"mark":{"type":"text"},"encoding":{"x":{"field":"d","type":"quantitative"},"y":{"field":"h","type":"quantitative"},"text":{"field":"t"}}}]},
{"width":57,"height":517,"view":{"fill":"#999"},"data":{"name":"a3"},"transform":[{"window":[{"op":"row_number","as":"r"}]},{"flatten":["v"]},{"window":[{"op":"row_number","as":"c"}],"groupby":["r"]}],"mark":{"type":"rect","strokeWidth":0.5},"encoding":{"x":{"field":"c","type":"ordinal","axis":null,"scale":{"paddingInner":0,"paddingOuter":0}},"y":{"field":"r","type":"ordinal","axis":null,"scale":{"paddingInner":0,"paddingOuter":0}},"color":{"field":"v","type":"quantitative","legend":null,"scale":{"domain":[-2,-1,0,1,2],"range":["#00a651","#0a5a2e","#0a0a0a","#6e1418","#ee2d36"]}},"stroke":{"field":"v","type":"quantitative","legend":null,"scale":{"domain":[-2,-1,0,1,2],"range":["#00a651","#0a5a2e","#0a0a0a","#6e1418","#ee2d36"]}}}}]},
{"spacing":2,"vconcat":[{"width":57,"height":50,"layer":[{"data":{"name":"w"},"mark":{"type":"area","color":"#f59a23"},"encoding":{"x":{"field":"d","type":"quantitative","scale":{"domain":[0,1]},"axis":null},"y":{"field":"h","type":"quantitative","scale":{"domain":[-0.13,4.57],"nice":false},"axis":null},"y2":{"datum":0}}},{"data":{"values":[{"t":"+ TGFβ","d":0.456,"h":2.28}]},"mark":{"type":"text"},"encoding":{"x":{"field":"d","type":"quantitative"},"y":{"field":"h","type":"quantitative"},"text":{"field":"t"}}}]},
{"width":57,"height":517,"view":{"fill":"#999"},"data":{"name":"a4"},"transform":[{"window":[{"op":"row_number","as":"r"}]},{"flatten":["v"]},{"window":[{"op":"row_number","as":"c"}],"groupby":["r"]}],"mark":{"type":"rect","strokeWidth":0.5},"encoding":{"x":{"field":"c","type":"ordinal","axis":null,"scale":{"paddingInner":0,"paddingOuter":0}},"y":{"field":"r","type":"ordinal","axis":null,"scale":{"paddingInner":0,"paddingOuter":0}},"color":{"field":"v","type":"quantitative","legend":null,"scale":{"domain":[-2,-1,0,1,2],"range":["#00a651","#0a5a2e","#0a0a0a","#6e1418","#ee2d36"]}},"stroke":{"field":"v","type":"quantitative","legend":null,"scale":{"domain":[-2,-1,0,1,2],"range":["#00a651","#0a5a2e","#0a0a0a","#6e1418","#ee2d36"]}}}}]},
{"spacing":2,"vconcat":[{"width":58,"height":50,"layer":[{"data":{"name":"w"},"mark":{"type":"area","color":"#3a62b0"},"encoding":{"x":{"field":"d","type":"quantitative","scale":{"domain":[0,1]},"axis":null},"y":{"field":"h","type":"quantitative","scale":{"domain":[-0.13,4.57],"nice":false},"axis":null},"y2":{"datum":0}}},{"data":{"values":[{"t":"No","d":0.47,"h":3.63},{"t":"treatment","d":0.47,"h":2.34}]},"mark":{"type":"text"},"encoding":{"x":{"field":"d","type":"quantitative"},"y":{"field":"h","type":"quantitative"},"text":{"field":"t"}}}]},
{"width":58,"height":517,"view":{"fill":"#999"},"data":{"name":"a5"},"transform":[{"window":[{"op":"row_number","as":"r"}]},{"flatten":["v"]},{"window":[{"op":"row_number","as":"c"}],"groupby":["r"]}],"mark":{"type":"rect","strokeWidth":0.5},"encoding":{"x":{"field":"c","type":"ordinal","axis":null,"scale":{"paddingInner":0,"paddingOuter":0}},"y":{"field":"r","type":"ordinal","axis":null,"scale":{"paddingInner":0,"paddingOuter":0}},"color":{"field":"v","type":"quantitative","legend":null,"scale":{"domain":[-2,-1,0,1,2],"range":["#00a651","#0a5a2e","#0a0a0a","#6e1418","#ee2d36"]}},"stroke":{"field":"v","type":"quantitative","legend":null,"scale":{"domain":[-2,-1,0,1,2],"range":["#00a651","#0a5a2e","#0a0a0a","#6e1418","#ee2d36"]}}}}]}]}]}]},
{"width":385,"height":38,"layer":[{"data":{"name":"ramp"},"mark":{"type":"rect"},"encoding":{"x":{"field":"v","type":"quantitative","scale":{"domain":[-4.47,3.17],"nice":false},"axis":null},"x2":{"field":"e"},"y":{"datum":0.316,"type":"quantitative","scale":{"domain":[1,0],"nice":false},"axis":null},"y2":{"datum":0.5},"color":{"field":"v","type":"quantitative","legend":null,"scale":{"domain":[-2,-1,0,1,2],"range":["#00a651","#0a5a2e","#0a0a0a","#6e1418","#ee2d36"]}}}},{"data":{"values":[{"t":"<2","x":-2.03,"y":0.16},{"t":"0","x":-0.04,"y":0.16},{"t":"2<","x":1.94,"y":0.16},{"t":"Below","x":-1.71,"y":0.79},{"t":"Median","x":0,"y":0.79},{"t":"Above","x":1.71,"y":0.79}]},"mark":{"type":"text"},"encoding":{"x":{"field":"x","type":"quantitative"},"y":{"field":"y","type":"quantitative"},"text":{"field":"t"}}}]}]},
{"spacing":3,"resolve":{"scale":{"color":"independent"}},"vconcat":[
{"width":192,"height":65,"layer":[{"data":{"values":[{"t":"b","x":0.026,"y":0.2}]},"mark":{"type":"text","fontSize":15,"fontWeight":"bold","color":"#111"},"encoding":{"x":{"field":"x","type":"quantitative","scale":{"domain":[0,1]},"axis":null},"y":{"field":"y","type":"quantitative","scale":{"domain":[1,0],"nice":false},"axis":null},"text":{"field":"t"}}},{"data":{"values":[{"t":"+ TGFβ","x":0.36,"y":0.754},{"t":"No","x":0.84,"y":0.57},{"t":"treatment","x":0.84,"y":0.77}]},"mark":{"type":"text"},"encoding":{"x":{"field":"x","type":"quantitative"},"y":{"field":"y","type":"quantitative"},"text":{"field":"t"}}},{"data":{"values":[{"x":0.108,"e":0.711,"y":0.908}]},"mark":{"type":"rule","color":"#333","strokeWidth":1},"encoding":{"x":{"field":"x","type":"quantitative"},"x2":{"field":"e"},"y":{"field":"y","type":"quantitative"}}}]},
{"spacing":2,"vconcat":[{"spacing":3.5,"hconcat":[
{"width":36,"height":12,"data":{"name":"w"},"mark":{"type":"area","color":"#3a62b0"},"encoding":{"x":{"field":"d","type":"quantitative","scale":{"domain":[0,1]},"axis":null},"y":{"field":"h","type":"quantitative","scale":{"domain":[-0.2,1],"nice":false},"axis":null},"y2":{"datum":0}}},
{"width":36,"height":12,"data":{"name":"w"},"mark":{"type":"area","color":"#3a62b0"},"encoding":{"x":{"field":"d","type":"quantitative","scale":{"domain":[0,1]},"axis":null},"y":{"field":"h","type":"quantitative","scale":{"domain":[-0.2,1],"nice":false},"axis":null},"y2":{"datum":0}}},
{"width":35,"height":12,"data":{"name":"w"},"mark":{"type":"area","color":"#f59a23"},"encoding":{"x":{"field":"d","type":"quantitative","scale":{"domain":[0,1]},"axis":null},"y":{"field":"h","type":"quantitative","scale":{"domain":[-0.2,1],"nice":false},"axis":null},"y2":{"datum":0}}},
{"width":35,"height":12,"data":{"name":"w"},"mark":{"type":"area","color":"#f59a23"},"encoding":{"x":{"field":"d","type":"quantitative","scale":{"domain":[0,1]},"axis":null},"y":{"field":"h","type":"quantitative","scale":{"domain":[-0.2,1],"nice":false},"axis":null},"y2":{"datum":0}}},
{"width":36,"height":12,"data":{"name":"w"},"mark":{"type":"area","color":"#3a62b0"},"encoding":{"x":{"field":"d","type":"quantitative","scale":{"domain":[0,1]},"axis":null},"y":{"field":"h","type":"quantitative","scale":{"domain":[-0.2,1],"nice":false},"axis":null},"y2":{"datum":0}}}]},
{"spacing":6,"hconcat":[{"spacing":2.5,"hconcat":[
{"width":36,"height":93,"view":{"fill":"#999"},"data":{"name":"b1"},"transform":[{"window":[{"op":"row_number","as":"r"}]},{"flatten":["v"]},{"window":[{"op":"row_number","as":"c"}],"groupby":["r"]}],"mark":{"type":"rect","strokeWidth":0.5},"encoding":{"x":{"field":"c","type":"ordinal","axis":null,"scale":{"paddingInner":0,"paddingOuter":0}},"y":{"field":"r","type":"ordinal","axis":null,"scale":{"paddingInner":0,"paddingOuter":0}},"color":{"field":"v","type":"quantitative","legend":null,"scale":{"domain":[-2,-1,0,1,2],"range":["#00a651","#0a5a2e","#0a0a0a","#6e1418","#ee2d36"]}},"stroke":{"field":"v","type":"quantitative","legend":null,"scale":{"domain":[-2,-1,0,1,2],"range":["#00a651","#0a5a2e","#0a0a0a","#6e1418","#ee2d36"]}}}},
{"width":36,"height":93,"view":{"fill":"#999"},"data":{"name":"b2"},"transform":[{"window":[{"op":"row_number","as":"r"}]},{"flatten":["v"]},{"window":[{"op":"row_number","as":"c"}],"groupby":["r"]}],"mark":{"type":"rect","strokeWidth":0.5},"encoding":{"x":{"field":"c","type":"ordinal","axis":null,"scale":{"paddingInner":0,"paddingOuter":0}},"y":{"field":"r","type":"ordinal","axis":null,"scale":{"paddingInner":0,"paddingOuter":0}},"color":{"field":"v","type":"quantitative","legend":null,"scale":{"domain":[-2,-1,0,1,2],"range":["#00a651","#0a5a2e","#0a0a0a","#6e1418","#ee2d36"]}},"stroke":{"field":"v","type":"quantitative","legend":null,"scale":{"domain":[-2,-1,0,1,2],"range":["#00a651","#0a5a2e","#0a0a0a","#6e1418","#ee2d36"]}}}},
{"width":35,"height":93,"view":{"fill":"#999"},"data":{"name":"b3"},"transform":[{"window":[{"op":"row_number","as":"r"}]},{"flatten":["v"]},{"window":[{"op":"row_number","as":"c"}],"groupby":["r"]}],"mark":{"type":"rect","strokeWidth":0.5},"encoding":{"x":{"field":"c","type":"ordinal","axis":null,"scale":{"paddingInner":0,"paddingOuter":0}},"y":{"field":"r","type":"ordinal","axis":null,"scale":{"paddingInner":0,"paddingOuter":0}},"color":{"field":"v","type":"quantitative","legend":null,"scale":{"domain":[-2,-1,0,1,2],"range":["#00a651","#0a5a2e","#0a0a0a","#6e1418","#ee2d36"]}},"stroke":{"field":"v","type":"quantitative","legend":null,"scale":{"domain":[-2,-1,0,1,2],"range":["#00a651","#0a5a2e","#0a0a0a","#6e1418","#ee2d36"]}}}},
{"width":35,"height":93,"view":{"fill":"#999"},"data":{"name":"b4"},"transform":[{"window":[{"op":"row_number","as":"r"}]},{"flatten":["v"]},{"window":[{"op":"row_number","as":"c"}],"groupby":["r"]}],"mark":{"type":"rect","strokeWidth":0.5},"encoding":{"x":{"field":"c","type":"ordinal","axis":null,"scale":{"paddingInner":0,"paddingOuter":0}},"y":{"field":"r","type":"ordinal","axis":null,"scale":{"paddingInner":0,"paddingOuter":0}},"color":{"field":"v","type":"quantitative","legend":null,"scale":{"domain":[-2,-1,0,1,2],"range":["#00a651","#0a5a2e","#0a0a0a","#6e1418","#ee2d36"]}},"stroke":{"field":"v","type":"quantitative","legend":null,"scale":{"domain":[-2,-1,0,1,2],"range":["#00a651","#0a5a2e","#0a0a0a","#6e1418","#ee2d36"]}}}},
{"width":36,"height":93,"view":{"fill":"#999"},"data":{"name":"b5"},"transform":[{"window":[{"op":"row_number","as":"r"}]},{"flatten":["v"]},{"window":[{"op":"row_number","as":"c"}],"groupby":["r"]}],"mark":{"type":"rect","strokeWidth":0.5},"encoding":{"x":{"field":"c","type":"ordinal","axis":null,"scale":{"paddingInner":0,"paddingOuter":0}},"y":{"field":"r","type":"ordinal","axis":null,"scale":{"paddingInner":0,"paddingOuter":0}},"color":{"field":"v","type":"quantitative","legend":null,"scale":{"domain":[-2,-1,0,1,2],"range":["#00a651","#0a5a2e","#0a0a0a","#6e1418","#ee2d36"]}},"stroke":{"field":"v","type":"quantitative","legend":null,"scale":{"domain":[-2,-1,0,1,2],"range":["#00a651","#0a5a2e","#0a0a0a","#6e1418","#ee2d36"]}}}}]},
{"width":60,"height":93,"data":{"values":[{"r":1,"g":"ACTA2"},{"r":2,"g":"SPHK1"},{"r":3,"g":"SERPINE1"},{"r":4,"g":"SPARC"},{"r":5,"g":"TGFB1"},{"r":6,"g":"COMP"},{"r":7,"g":"COMP"},{"r":8,"g":"CTGF"}]},"mark":{"type":"text","align":"left"},"encoding":{"x":{"datum":0,"type":"quantitative","scale":{"domain":[0,1]},"axis":null},"y":{"field":"r","type":"ordinal","axis":null,"scale":{"paddingInner":0,"paddingOuter":0}},"text":{"field":"g"}}}]}]},
{"width":192,"height":47,"layer":[{"data":{"values":[{"t":"c","x":0.026,"y":0.52}]},"mark":{"type":"text","fontSize":15,"fontWeight":"bold","color":"#111"},"encoding":{"x":{"field":"x","type":"quantitative","scale":{"domain":[0,1]},"axis":null},"y":{"field":"y","type":"quantitative","scale":{"domain":[1,0],"nice":false},"axis":null},"text":{"field":"t"}}},{"data":{"values":[{"t":"+ TGFβ","x":0.354,"y":0.73},{"t":"No","x":0.88,"y":0.44},{"t":"treatment","x":0.88,"y":0.73}]},"mark":{"type":"text"},"encoding":{"x":{"field":"x","type":"quantitative"},"y":{"field":"y","type":"quantitative"},"text":{"field":"t"}}},{"data":{"values":[{"x":0.1,"e":0.76,"y":0.896}]},"mark":{"type":"rule","color":"#333","strokeWidth":1},"encoding":{"x":{"field":"x","type":"quantitative"},"x2":{"field":"e"},"y":{"field":"y","type":"quantitative"}}}]},
{"spacing":-2,"resolve":{"scale":{"color":"independent"}},"vconcat":[{"spacing":1,"hconcat":[
{"width":39,"height":9,"data":{"name":"w"},"mark":{"type":"area","color":"#3a62b0"},"encoding":{"x":{"field":"d","type":"quantitative","scale":{"domain":[0,1]},"axis":null},"y":{"field":"h","type":"quantitative","scale":{"domain":[-0.125,1],"nice":false},"axis":null},"y2":{"datum":0}}},
{"width":39,"height":9,"data":{"name":"w"},"mark":{"type":"area","color":"#3a62b0"},"encoding":{"x":{"field":"d","type":"quantitative","scale":{"domain":[0,1]},"axis":null},"y":{"field":"h","type":"quantitative","scale":{"domain":[-0.125,1],"nice":false},"axis":null},"y2":{"datum":0}}},
{"width":32,"height":9,"data":{"name":"w"},"mark":{"type":"area","color":"#f59a23"},"encoding":{"x":{"field":"d","type":"quantitative","scale":{"domain":[0,1]},"axis":null},"y":{"field":"h","type":"quantitative","scale":{"domain":[-0.125,1],"nice":false},"axis":null},"y2":{"datum":0}}},
{"width":39,"height":9,"data":{"name":"w"},"mark":{"type":"area","color":"#f59a23"},"encoding":{"x":{"field":"d","type":"quantitative","scale":{"domain":[0,1]},"axis":null},"y":{"field":"h","type":"quantitative","scale":{"domain":[-0.125,1],"nice":false},"axis":null},"y2":{"datum":0}}},
{"width":38,"height":9,"data":{"name":"w"},"mark":{"type":"area","color":"#3a62b0"},"encoding":{"x":{"field":"d","type":"quantitative","scale":{"domain":[0,1]},"axis":null},"y":{"field":"h","type":"quantitative","scale":{"domain":[-0.125,1],"nice":false},"axis":null},"y2":{"datum":0}}}]},
{"spacing":0,"resolve":{"scale":{"color":"independent"}},"hconcat":[
{"width":192,"height":313,"view":{"fill":"#555"},"data":{"name":"c"},"transform":[{"window":[{"op":"row_number","as":"r"}]},{"flatten":["v"]},{"window":[{"op":"row_number","as":"c"}],"groupby":["r"]}],"mark":{"type":"rect"},"encoding":{"x":{"field":"c","type":"ordinal","axis":null,"scale":{"paddingInner":0,"paddingOuter":0}},"y":{"field":"r","type":"ordinal","axis":null,"scale":{"paddingInner":0,"paddingOuter":0}},"color":{"field":"v","type":"ordinal","legend":null,"scale":{"domain":[0,1,2],"range":["#000000","#ee2d36","#00a651"]}}}},
{"width":203,"height":313,"layer":[{"data":{"values":[{"k":"Development","a":0.2,"b":8.1},{"k":"Matrix","a":9.3,"b":9.7},{"k":"Development","a":15.8,"b":20.6},{"k":"Matrix","a":20.6,"b":23.6},{"k":"Regulation","a":28.3,"b":38},{"k":"Mitosis","a":50.9,"b":57.6},{"k":"Development","a":59,"b":62}]},"mark":{"type":"rect"},"encoding":{"x":{"datum":0.034,"type":"quantitative","scale":{"domain":[0,1]},"axis":null},"x2":{"datum":0.069},"y":{"field":"a","type":"quantitative","scale":{"domain":[62,0],"nice":false},"axis":null},"y2":{"field":"b"},"color":{"field":"k","type":"nominal","legend":null,"scale":{"domain":["Development","Matrix","Regulation","Mitosis"],"range":["#8e4a9e","#7a8cc8","#e0257f","#fdd64f"]}}}},{"data":{"values":[{"t":"Skeletal development","y":0.2},{"t":"Muscle development","y":2.8},{"t":"Vasculature development","y":5.5},{"t":"Proteinaceous ECM","y":9.25},{"t":"Organ morphogenesis","y":16.4},{"t":"Anatomical structure morphogenesis","y":19},{"t":"Extracellular region","y":22.4},{"t":"Regulation of catalytic activity","y":28.9},{"t":"Regulation of kinase activity","y":31.6},{"t":"Regulation of transferase activity","y":34.1},{"t":"Magnesium ion binding","y":36.8},{"t":"Mitotic cell cycle","y":49.5},{"t":"Cell division","y":52.1},{"t":"Phospholipid binding","y":54.8},{"t":"Chromosome segregation","y":57.4},{"t":"Cartilage development","y":59.6},{"t":"Regulation of angiogenesis","y":62.3}]},"mark":{"type":"text","align":"left"},"encoding":{"x":{"datum":0.1,"type":"quantitative"},"y":{"field":"y","type":"quantitative"},"text":{"field":"t"}}}]}]}]}]}]}
